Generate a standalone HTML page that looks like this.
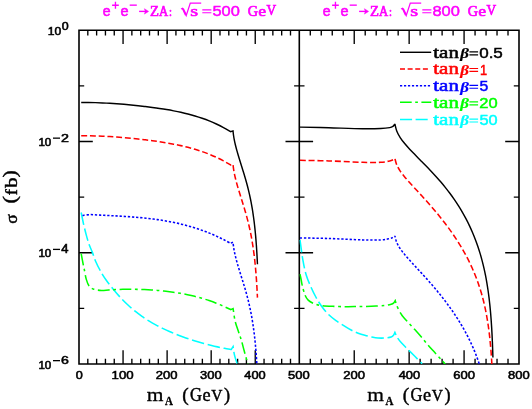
<!DOCTYPE html>
<html><head><meta charset="utf-8"><style>html,body{margin:0;padding:0;background:#fff}svg{display:block;will-change:transform}</style></head><body><svg width="532" height="409" viewBox="0 0 532 409">
<defs><clipPath id="cl"><rect x="79.00" y="30.20" width="220.30" height="333.75"/></clipPath>
<clipPath id="cr"><rect x="299.30" y="30.20" width="219.70" height="333.75"/></clipPath></defs>
<rect width="532" height="409" fill="#fff"/>
<path d="M79.00,30.20 H519.00 V363.95 H79.00 Z M299.30,30.20 V363.95" fill="none" stroke="#000" stroke-width="1.60" stroke-linecap="butt" stroke-linejoin="miter"/>
<path d="M87.81,30.20 v5.20 M87.81,363.95 v-5.20 M96.62,30.20 v5.20 M96.62,363.95 v-5.20 M105.44,30.20 v5.20 M105.44,363.95 v-5.20 M114.25,30.20 v5.20 M114.25,363.95 v-5.20 M123.06,30.20 v13.80 M123.06,363.95 v-13.80 M131.87,30.20 v5.20 M131.87,363.95 v-5.20 M140.68,30.20 v5.20 M140.68,363.95 v-5.20 M149.50,30.20 v5.20 M149.50,363.95 v-5.20 M158.31,30.20 v5.20 M158.31,363.95 v-5.20 M167.12,30.20 v13.80 M167.12,363.95 v-13.80 M175.93,30.20 v5.20 M175.93,363.95 v-5.20 M184.74,30.20 v5.20 M184.74,363.95 v-5.20 M193.56,30.20 v5.20 M193.56,363.95 v-5.20 M202.37,30.20 v5.20 M202.37,363.95 v-5.20 M211.18,30.20 v13.80 M211.18,363.95 v-13.80 M219.99,30.20 v5.20 M219.99,363.95 v-5.20 M228.80,30.20 v5.20 M228.80,363.95 v-5.20 M237.62,30.20 v5.20 M237.62,363.95 v-5.20 M246.43,30.20 v5.20 M246.43,363.95 v-5.20 M255.24,30.20 v13.80 M255.24,363.95 v-13.80 M264.05,30.20 v5.20 M264.05,363.95 v-5.20 M272.86,30.20 v5.20 M272.86,363.95 v-5.20 M281.68,30.20 v5.20 M281.68,363.95 v-5.20 M290.49,30.20 v5.20 M290.49,363.95 v-5.20 M310.29,30.20 v5.20 M310.29,363.95 v-5.20 M321.27,30.20 v5.20 M321.27,363.95 v-5.20 M332.25,30.20 v5.20 M332.25,363.95 v-5.20 M343.24,30.20 v5.20 M343.24,363.95 v-5.20 M354.23,30.20 v13.80 M354.23,363.95 v-13.80 M365.21,30.20 v5.20 M365.21,363.95 v-5.20 M376.19,30.20 v5.20 M376.19,363.95 v-5.20 M387.18,30.20 v5.20 M387.18,363.95 v-5.20 M398.17,30.20 v5.20 M398.17,363.95 v-5.20 M409.15,30.20 v13.80 M409.15,363.95 v-13.80 M420.13,30.20 v5.20 M420.13,363.95 v-5.20 M431.12,30.20 v5.20 M431.12,363.95 v-5.20 M442.11,30.20 v5.20 M442.11,363.95 v-5.20 M453.09,30.20 v5.20 M453.09,363.95 v-5.20 M464.08,30.20 v13.80 M464.08,363.95 v-13.80 M475.06,30.20 v5.20 M475.06,363.95 v-5.20 M486.05,30.20 v5.20 M486.05,363.95 v-5.20 M497.03,30.20 v5.20 M497.03,363.95 v-5.20 M508.01,30.20 v5.20 M508.01,363.95 v-5.20 M79.00,85.83 h5.20 M294.10,85.83 h10.40 M519.00,85.83 h-5.20 M79.00,141.45 h13.80 M285.50,141.45 h27.60 M519.00,141.45 h-13.80 M79.00,197.07 h5.20 M294.10,197.07 h10.40 M519.00,197.07 h-5.20 M79.00,252.70 h13.80 M285.50,252.70 h27.60 M519.00,252.70 h-13.80 M79.00,308.32 h5.20 M294.10,308.32 h10.40 M519.00,308.32 h-5.20" fill="none" stroke="#000" stroke-width="1.35" stroke-linecap="butt"/>
<path d="M81.20,212.50 C81.58,214.38 82.65,220.03 83.50,223.80 C84.35,227.57 85.37,231.65 86.30,235.10 C87.23,238.55 88.10,241.67 89.10,244.50 C90.10,247.33 91.20,249.27 92.30,252.10 C93.40,254.93 94.35,258.37 95.70,261.50 C97.05,264.63 98.67,267.82 100.40,270.90 C102.13,273.98 103.75,276.70 106.10,280.00 C108.45,283.30 111.95,287.63 114.50,290.71 C117.05,293.79 119.08,296.08 121.37,298.51 C123.66,300.94 125.95,303.18 128.24,305.30 C130.53,307.41 132.82,309.36 135.11,311.21 C137.40,313.05 139.69,314.76 141.98,316.37 C144.27,317.98 146.56,319.47 148.85,320.89 C151.14,322.31 153.43,323.62 155.72,324.87 C158.01,326.12 160.30,327.28 162.59,328.40 C164.88,329.51 167.17,330.55 169.46,331.55 C171.75,332.54 174.05,333.48 176.34,334.38 C178.63,335.28 180.92,336.13 183.21,336.95 C185.50,337.77 187.79,338.55 190.08,339.30 C192.37,340.06 194.66,340.77 196.95,341.46 C199.24,342.15 201.53,342.81 203.82,343.44 C206.11,344.07 208.40,344.68 210.69,345.25 C212.98,345.82 215.27,346.37 217.56,346.88 C219.85,347.39 222.14,347.87 224.43,348.31 C226.72,348.74 230.15,349.30 231.30,349.50 L233.10,346.70 C233.33,348.10 233.83,352.30 234.50,355.10 C235.17,357.90 236.67,362.10 237.10,363.50 " fill="none" stroke="#00ffff" stroke-width="1.55" stroke-dasharray="12.6 3.7" clip-path="url(#cl)"/>
<path d="M81.20,253.70 C81.58,255.73 82.97,263.18 83.50,265.90 C84.03,268.62 83.93,267.75 84.40,270.00 C84.87,272.25 85.52,276.73 86.30,279.40 C87.08,282.07 87.85,284.37 89.10,286.00 C90.35,287.63 91.75,288.46 93.80,289.20 C95.85,289.94 98.94,290.33 101.40,290.45 C103.86,290.57 106.19,290.08 108.58,289.93 C110.97,289.78 113.36,289.66 115.76,289.56 C118.15,289.47 120.54,289.40 122.93,289.35 C125.33,289.30 127.72,289.28 130.11,289.28 C132.50,289.28 134.90,289.31 137.29,289.36 C139.68,289.41 142.07,289.49 144.47,289.59 C146.86,289.69 149.25,289.82 151.64,289.98 C154.04,290.13 156.43,290.32 158.82,290.53 C161.21,290.75 163.61,290.99 166.00,291.27 C168.39,291.54 170.79,291.85 173.18,292.20 C175.57,292.54 177.96,292.92 180.36,293.34 C182.75,293.76 185.14,294.22 187.53,294.72 C189.93,295.23 192.32,295.77 194.71,296.37 C197.10,296.96 199.50,297.60 201.89,298.30 C204.28,299.00 206.67,299.75 209.07,300.56 C211.46,301.37 213.85,302.23 216.24,303.17 C218.64,304.10 221.03,305.10 223.42,306.17 C225.81,307.24 229.40,309.03 230.60,309.61 L233.10,308.60 C233.43,310.67 234.18,317.10 235.10,321.00 C236.02,324.90 237.57,328.83 238.60,332.00 C239.63,335.17 240.32,336.67 241.30,340.00 C242.28,343.33 243.40,347.97 244.50,352.00 C245.60,356.03 247.33,362.17 247.90,364.20 " fill="none" stroke="#00ff00" stroke-width="1.55" stroke-dasharray="11.7 3.6 2.8 3.6" clip-path="url(#cl)"/>
<path d="M82.50,215.40 C83.75,215.27 87.58,214.67 90.00,214.60 C92.42,214.53 94.68,214.85 97.03,214.97 C99.37,215.09 101.71,215.20 104.05,215.32 C106.39,215.43 108.73,215.54 111.08,215.66 C113.42,215.79 115.76,215.91 118.10,216.04 C120.44,216.17 122.78,216.31 125.12,216.46 C127.47,216.61 129.81,216.77 132.15,216.95 C134.49,217.12 136.83,217.31 139.18,217.53 C141.52,217.74 143.86,217.96 146.20,218.22 C148.54,218.47 150.88,218.74 153.22,219.04 C155.57,219.35 157.91,219.67 160.25,220.03 C162.59,220.38 164.93,220.77 167.28,221.19 C169.62,221.61 171.96,222.06 174.30,222.55 C176.64,223.04 178.98,223.57 181.32,224.14 C183.67,224.71 186.01,225.31 188.35,225.97 C190.69,226.62 193.03,227.32 195.38,228.06 C197.72,228.81 200.06,229.60 202.40,230.45 C204.74,231.29 207.08,232.19 209.43,233.14 C211.77,234.09 214.11,235.09 216.45,236.16 C218.79,237.23 221.13,238.35 223.47,239.53 C225.82,240.72 229.33,242.66 230.50,243.28 L233.00,242.20 C233.09,242.96 233.33,245.27 233.55,246.81 C233.77,248.35 234.04,249.91 234.34,251.44 C234.64,252.98 234.99,254.50 235.36,256.03 C235.72,257.55 236.12,259.06 236.52,260.58 C236.93,262.09 237.36,263.59 237.79,265.10 C238.23,266.60 238.68,268.10 239.14,269.60 C239.59,271.10 240.06,272.59 240.52,274.08 C240.99,275.58 241.46,277.07 241.93,278.56 C242.40,280.06 242.87,281.55 243.33,283.05 C243.79,284.54 244.25,286.04 244.69,287.54 C245.14,289.04 245.58,290.54 246.00,292.05 C246.43,293.56 246.84,295.07 247.24,296.58 C247.64,298.10 248.03,299.61 248.40,301.13 C248.77,302.65 249.13,304.18 249.47,305.71 C249.81,307.23 250.14,308.76 250.46,310.30 C250.77,311.83 251.07,313.37 251.36,314.91 C251.64,316.45 251.91,317.99 252.17,319.53 C252.43,321.08 252.68,322.62 252.91,324.17 C253.15,325.72 253.37,327.27 253.58,328.82 C253.79,330.37 253.99,331.92 254.19,333.47 C254.38,335.03 254.56,336.58 254.73,338.14 C254.90,339.70 255.06,341.25 255.21,342.81 C255.37,344.37 255.51,345.93 255.65,347.49 C255.79,349.05 255.92,350.61 256.04,352.17 C256.16,353.73 256.28,355.29 256.39,356.85 C256.50,358.41 256.60,359.97 256.70,361.54 C256.80,363.10 256.89,364.66 256.98,366.22 C257.07,367.79 257.15,369.35 257.23,370.91 C257.30,372.48 257.41,374.82 257.45,375.61 " fill="none" stroke="#0000ff" stroke-width="1.55" stroke-dasharray="2.3 1.83" clip-path="url(#cl)"/>
<path d="M81.20,135.84 C82.39,135.83 85.94,135.79 88.31,135.81 C90.69,135.83 93.06,135.88 95.43,135.95 C97.80,136.01 100.17,136.11 102.54,136.21 C104.91,136.32 107.29,136.45 109.66,136.60 C112.03,136.74 114.40,136.90 116.77,137.08 C119.14,137.25 121.51,137.44 123.89,137.64 C126.26,137.84 128.63,138.05 131.00,138.28 C133.37,138.51 135.74,138.75 138.11,139.00 C140.49,139.26 142.86,139.53 145.23,139.81 C147.60,140.09 149.97,140.39 152.34,140.71 C154.71,141.03 157.09,141.36 159.46,141.72 C161.83,142.08 164.20,142.45 166.57,142.86 C168.94,143.26 171.31,143.69 173.69,144.15 C176.06,144.62 178.43,145.10 180.80,145.63 C183.17,146.17 185.54,146.73 187.91,147.34 C190.29,147.95 192.66,148.60 195.03,149.31 C197.40,150.02 199.77,150.78 202.14,151.60 C204.51,152.42 206.89,153.29 209.26,154.25 C211.63,155.20 214.00,156.22 216.37,157.32 C218.74,158.43 221.11,159.60 223.49,160.88 C225.86,162.16 229.41,164.31 230.60,165.00 L233.00,164.20 C233.09,164.96 233.33,167.27 233.55,168.81 C233.77,170.35 234.04,171.91 234.34,173.44 C234.64,174.98 234.99,176.50 235.36,178.03 C235.72,179.55 236.12,181.06 236.52,182.58 C236.93,184.09 237.36,185.59 237.79,187.10 C238.23,188.60 238.68,190.10 239.14,191.60 C239.59,193.10 240.06,194.59 240.52,196.08 C240.99,197.58 241.46,199.07 241.93,200.56 C242.40,202.06 242.87,203.55 243.33,205.05 C243.79,206.54 244.25,208.04 244.69,209.54 C245.14,211.04 245.58,212.54 246.00,214.05 C246.43,215.56 246.84,217.07 247.24,218.58 C247.64,220.10 248.03,221.61 248.40,223.13 C248.77,224.65 249.13,226.18 249.47,227.71 C249.81,229.23 250.14,230.76 250.46,232.30 C250.77,233.83 251.07,235.37 251.36,236.91 C251.64,238.45 251.91,239.99 252.17,241.53 C252.43,243.08 252.68,244.62 252.91,246.17 C253.15,247.72 253.37,249.27 253.58,250.82 C253.79,252.37 253.99,253.92 254.19,255.47 C254.38,257.03 254.56,258.58 254.73,260.14 C254.90,261.70 255.06,263.25 255.21,264.81 C255.37,266.37 255.51,267.93 255.65,269.49 C255.79,271.05 255.92,272.61 256.04,274.17 C256.16,275.73 256.28,277.29 256.39,278.85 C256.50,280.41 256.60,281.97 256.70,283.54 C256.80,285.10 256.89,286.66 256.98,288.22 C257.07,289.79 257.15,291.35 257.23,292.91 C257.30,294.48 257.41,296.82 257.45,297.61 " fill="none" stroke="#ff0000" stroke-width="1.55" stroke-dasharray="5.9 2.85" clip-path="url(#cl)"/>
<path d="M81.20,102.54 C82.39,102.53 85.94,102.49 88.31,102.51 C90.69,102.53 93.06,102.58 95.43,102.65 C97.80,102.71 100.17,102.81 102.54,102.91 C104.91,103.02 107.29,103.15 109.66,103.30 C112.03,103.44 114.40,103.60 116.77,103.78 C119.14,103.95 121.51,104.14 123.89,104.34 C126.26,104.54 128.63,104.75 131.00,104.98 C133.37,105.21 135.74,105.45 138.11,105.70 C140.49,105.96 142.86,106.23 145.23,106.51 C147.60,106.79 149.97,107.09 152.34,107.41 C154.71,107.73 157.09,108.06 159.46,108.42 C161.83,108.78 164.20,109.15 166.57,109.56 C168.94,109.96 171.31,110.39 173.69,110.85 C176.06,111.32 178.43,111.80 180.80,112.33 C183.17,112.87 185.54,113.43 187.91,114.04 C190.29,114.65 192.66,115.30 195.03,116.01 C197.40,116.72 199.77,117.48 202.14,118.30 C204.51,119.12 206.89,119.99 209.26,120.95 C211.63,121.90 214.00,122.92 216.37,124.02 C218.74,125.13 221.11,126.30 223.49,127.58 C225.86,128.86 229.41,131.01 230.60,131.70 L233.00,130.90 C233.09,131.66 233.33,133.97 233.55,135.51 C233.77,137.05 234.04,138.61 234.34,140.14 C234.64,141.68 234.99,143.20 235.36,144.73 C235.72,146.25 236.12,147.76 236.52,149.28 C236.93,150.79 237.36,152.29 237.79,153.80 C238.23,155.30 238.68,156.80 239.14,158.30 C239.59,159.80 240.06,161.29 240.52,162.78 C240.99,164.28 241.46,165.77 241.93,167.26 C242.40,168.76 242.87,170.25 243.33,171.75 C243.79,173.24 244.25,174.74 244.69,176.24 C245.14,177.74 245.58,179.24 246.00,180.75 C246.43,182.26 246.84,183.77 247.24,185.28 C247.64,186.80 248.03,188.31 248.40,189.83 C248.77,191.35 249.13,192.88 249.47,194.41 C249.81,195.93 250.14,197.46 250.46,199.00 C250.77,200.53 251.07,202.07 251.36,203.61 C251.64,205.15 251.91,206.69 252.17,208.23 C252.43,209.78 252.68,211.32 252.91,212.87 C253.15,214.42 253.37,215.97 253.58,217.52 C253.79,219.07 253.99,220.62 254.19,222.17 C254.38,223.73 254.56,225.28 254.73,226.84 C254.90,228.40 255.06,229.95 255.21,231.51 C255.37,233.07 255.51,234.63 255.65,236.19 C255.79,237.75 255.92,239.31 256.04,240.87 C256.16,242.43 256.28,243.99 256.39,245.55 C256.50,247.11 256.60,248.67 256.70,250.24 C256.80,251.80 256.89,253.36 256.98,254.92 C257.07,256.49 257.15,258.05 257.23,259.61 C257.30,261.18 257.41,263.52 257.45,264.31 " fill="none" stroke="#000" stroke-width="1.45" clip-path="url(#cl)"/>
<path d="M300.00,239.80 C300.48,243.18 301.87,254.23 302.90,260.10 C303.93,265.97 304.87,270.53 306.20,275.00 C307.53,279.47 309.25,283.15 310.90,286.90 C312.55,290.65 314.35,294.32 316.10,297.50 C317.85,300.68 319.42,303.25 321.40,306.00 C323.38,308.75 325.57,311.57 328.00,314.00 C330.43,316.43 333.17,318.53 336.00,320.60 C338.83,322.67 342.40,324.78 345.00,326.40 C347.60,328.02 349.40,329.17 351.60,330.30 C353.80,331.43 356.00,332.37 358.20,333.20 C360.40,334.03 362.60,334.68 364.80,335.30 C367.00,335.92 369.20,336.45 371.40,336.90 C373.60,337.35 375.80,337.82 378.00,338.00 C380.20,338.18 382.40,338.18 384.60,338.00 C386.80,337.82 389.72,337.37 391.20,336.90 C392.68,336.43 392.88,335.95 393.50,335.20 C394.12,334.45 394.67,332.87 394.90,332.40 L394.90,332.40 C395.05,332.75 395.45,333.72 395.80,334.50 C396.15,335.28 396.03,335.67 397.00,337.10 C397.97,338.53 399.73,341.00 401.60,343.10 C403.47,345.20 406.00,347.50 408.20,349.70 C410.40,351.90 412.48,353.97 414.80,356.30 C417.12,358.63 420.88,362.47 422.10,363.70 " fill="none" stroke="#00ffff" stroke-width="1.55" stroke-dasharray="12.6 3.7" clip-path="url(#cr)"/>
<path d="M300.00,274.10 C300.20,275.08 300.82,278.08 301.20,280.00 C301.58,281.92 301.68,283.13 302.30,285.60 C302.92,288.07 303.92,292.38 304.90,294.80 C305.88,297.22 306.77,298.67 308.20,300.10 C309.63,301.53 311.30,302.48 313.50,303.40 C315.70,304.32 317.88,305.10 321.40,305.60 C324.92,306.10 330.20,306.22 334.60,306.40 C339.00,306.58 343.87,306.68 347.80,306.70 C351.73,306.72 354.27,306.57 358.20,306.50 C362.13,306.43 367.00,306.47 371.40,306.30 C375.80,306.13 381.30,305.85 384.60,305.50 C387.90,305.15 389.67,304.65 391.20,304.20 C392.73,303.75 393.13,303.40 393.80,302.80 C394.47,302.20 394.97,300.97 395.20,300.60 L395.20,300.60 C395.38,301.17 395.87,302.78 396.30,304.00 C396.73,305.22 397.03,306.30 397.80,307.90 C398.57,309.50 400.02,312.12 400.90,313.60 C401.78,315.08 401.87,315.32 403.10,316.80 C404.33,318.28 406.35,320.37 408.30,322.50 C410.25,324.63 412.62,327.17 414.80,329.60 C416.98,332.03 419.20,334.53 421.40,337.10 C423.60,339.67 425.80,342.47 428.00,345.00 C430.20,347.53 432.40,349.87 434.60,352.30 C436.80,354.73 439.43,357.63 441.20,359.60 C442.97,361.57 444.53,363.35 445.20,364.10 " fill="none" stroke="#00ff00" stroke-width="1.55" stroke-dasharray="11.7 3.6 2.8 3.6" clip-path="url(#cr)"/>
<path d="M300.00,237.90 C304.80,238.00 318.35,238.17 328.80,238.50 C339.25,238.83 354.05,239.67 362.70,239.90 C371.35,240.13 376.20,240.13 380.70,239.90 C385.20,239.67 387.65,238.92 389.70,238.50 C391.75,238.08 392.13,237.78 393.00,237.40 C393.87,237.02 394.58,236.40 394.90,236.20 L394.90,236.08 C395.20,237.12 395.85,240.29 396.69,242.32 C397.52,244.34 398.69,246.35 399.89,248.23 C401.10,250.12 402.52,251.88 403.93,253.63 C405.33,255.38 406.83,257.06 408.31,258.75 C409.80,260.43 411.33,262.08 412.84,263.73 C414.36,265.39 415.90,267.03 417.42,268.68 C418.95,270.33 420.47,271.98 421.99,273.64 C423.51,275.29 425.02,276.96 426.51,278.63 C428.01,280.31 429.50,281.99 430.97,283.68 C432.45,285.38 433.91,287.09 435.35,288.81 C436.80,290.53 438.23,292.26 439.64,294.01 C441.05,295.76 442.44,297.52 443.81,299.30 C445.19,301.08 446.54,302.87 447.87,304.68 C449.21,306.49 450.52,308.31 451.81,310.15 C453.09,311.99 454.36,313.85 455.60,315.73 C456.83,317.60 458.05,319.49 459.23,321.40 C460.41,323.31 461.57,325.24 462.70,327.18 C463.82,329.12 464.92,331.09 465.98,333.07 C467.04,335.04 468.08,337.04 469.07,339.05 C470.07,341.07 471.03,343.10 471.95,345.15 C472.88,347.19 473.77,349.26 474.62,351.34 C475.47,353.41 476.29,355.51 477.07,357.62 C477.84,359.72 478.58,361.85 479.29,363.98 C479.99,366.11 480.66,368.26 481.29,370.42 C481.91,372.57 482.51,374.74 483.07,376.92 C483.63,379.09 484.15,381.28 484.64,383.47 C485.13,385.66 485.59,387.86 486.02,390.06 C486.45,392.27 486.85,394.48 487.22,396.70 C487.59,398.91 487.94,401.13 488.26,403.36 C488.58,405.58 488.87,407.81 489.15,410.04 C489.43,412.27 489.68,414.50 489.91,416.73 C490.15,418.97 490.36,421.20 490.56,423.44 C490.76,425.68 490.94,427.92 491.11,430.16 C491.28,432.40 491.43,434.64 491.57,436.88 C491.72,439.12 491.90,442.49 491.97,443.61 " fill="none" stroke="#0000ff" stroke-width="1.55" stroke-dasharray="2.3 1.83" clip-path="url(#cr)"/>
<path d="M300.00,160.30 C304.80,160.40 318.35,160.57 328.80,160.90 C339.25,161.23 354.05,162.07 362.70,162.30 C371.35,162.53 376.20,162.53 380.70,162.30 C385.20,162.07 387.65,161.32 389.70,160.90 C391.75,160.48 392.13,160.18 393.00,159.80 C393.87,159.42 394.58,158.80 394.90,158.60 L394.90,158.48 C395.20,159.52 395.85,162.69 396.69,164.72 C397.52,166.74 398.69,168.75 399.89,170.63 C401.10,172.52 402.52,174.28 403.93,176.03 C405.33,177.78 406.83,179.46 408.31,181.15 C409.80,182.83 411.33,184.48 412.84,186.13 C414.36,187.79 415.90,189.43 417.42,191.08 C418.95,192.73 420.47,194.38 421.99,196.04 C423.51,197.69 425.02,199.36 426.51,201.03 C428.01,202.71 429.50,204.39 430.97,206.08 C432.45,207.78 433.91,209.49 435.35,211.21 C436.80,212.93 438.23,214.66 439.64,216.41 C441.05,218.16 442.44,219.92 443.81,221.70 C445.19,223.48 446.54,225.27 447.87,227.08 C449.21,228.89 450.52,230.71 451.81,232.55 C453.09,234.39 454.36,236.25 455.60,238.13 C456.83,240.00 458.05,241.89 459.23,243.80 C460.41,245.71 461.57,247.64 462.70,249.58 C463.82,251.52 464.92,253.49 465.98,255.47 C467.04,257.44 468.08,259.44 469.07,261.45 C470.07,263.47 471.03,265.50 471.95,267.55 C472.88,269.59 473.77,271.66 474.62,273.74 C475.47,275.81 476.29,277.91 477.07,280.02 C477.84,282.12 478.58,284.25 479.29,286.38 C479.99,288.51 480.66,290.66 481.29,292.82 C481.91,294.97 482.51,297.14 483.07,299.32 C483.63,301.49 484.15,303.68 484.64,305.87 C485.13,308.06 485.59,310.26 486.02,312.46 C486.45,314.67 486.85,316.88 487.22,319.10 C487.59,321.31 487.94,323.53 488.26,325.76 C488.58,327.98 488.87,330.21 489.15,332.44 C489.43,334.67 489.68,336.90 489.91,339.13 C490.15,341.37 490.36,343.60 490.56,345.84 C490.76,348.08 490.94,350.32 491.11,352.56 C491.28,354.80 491.43,357.04 491.57,359.28 C491.72,361.52 491.90,364.89 491.97,366.01 " fill="none" stroke="#ff0000" stroke-width="1.55" stroke-dasharray="5.9 2.85" clip-path="url(#cr)"/>
<path d="M300.00,127.10 C304.80,127.22 318.35,127.53 328.80,127.80 C339.25,128.07 354.05,128.58 362.70,128.70 C371.35,128.82 376.20,128.68 380.70,128.50 C385.20,128.32 387.65,127.97 389.70,127.60 C391.75,127.23 392.13,126.90 393.00,126.30 C393.87,125.70 394.58,124.38 394.90,124.00 L394.90,123.90 C395.21,125.07 395.86,128.63 396.74,130.90 C397.62,133.18 398.87,135.44 400.20,137.55 C401.52,139.65 403.11,141.61 404.69,143.55 C406.27,145.49 407.97,147.33 409.67,149.17 C411.36,151.01 413.12,152.79 414.86,154.58 C416.61,156.37 418.38,158.14 420.14,159.92 C421.90,161.70 423.67,163.47 425.41,165.26 C427.16,167.05 428.90,168.85 430.62,170.67 C432.33,172.49 434.04,174.32 435.71,176.18 C437.39,178.04 439.04,179.91 440.67,181.82 C442.29,183.72 443.89,185.65 445.45,187.60 C447.01,189.55 448.54,191.53 450.03,193.54 C451.53,195.55 452.99,197.58 454.40,199.64 C455.82,201.70 457.20,203.79 458.54,205.90 C459.88,208.02 461.18,210.16 462.43,212.32 C463.68,214.49 464.89,216.68 466.06,218.89 C467.22,221.10 468.34,223.34 469.42,225.60 C470.49,227.86 471.52,230.14 472.50,232.44 C473.49,234.74 474.42,237.06 475.32,239.40 C476.21,241.73 477.06,244.09 477.86,246.46 C478.67,248.83 479.42,251.21 480.14,253.61 C480.86,256.00 481.53,258.41 482.17,260.83 C482.80,263.25 483.40,265.68 483.95,268.12 C484.51,270.56 485.03,273.01 485.51,275.46 C486.00,277.92 486.45,280.38 486.86,282.85 C487.28,285.31 487.67,287.78 488.03,290.26 C488.39,292.74 488.71,295.22 489.02,297.70 C489.32,300.18 489.60,302.67 489.86,305.16 C490.12,307.64 490.35,310.14 490.57,312.63 C490.78,315.12 490.98,317.61 491.16,320.11 C491.34,322.60 491.50,325.10 491.66,327.60 C491.81,330.09 491.94,332.59 492.07,335.09 C492.19,337.59 492.30,340.09 492.41,342.59 C492.51,345.08 492.60,347.58 492.69,350.08 C492.77,352.58 492.88,356.34 492.92,357.59 " fill="none" stroke="#000" stroke-width="1.45" clip-path="url(#cr)"/>
<text transform="matrix(1.0937,0,0,1,75.795,379.485)" font-family="Liberation Sans, serif" font-weight="normal" font-style="normal" font-size="11.549" fill="#000" stroke="#000" stroke-width="0.57">0</text>
<text transform="matrix(1.1470,0,0,1,111.606,379.485)" font-family="Liberation Sans, serif" font-weight="normal" font-style="normal" font-size="11.549" fill="#000" stroke="#000" stroke-width="0.56">100</text>
<text transform="matrix(1.1289,0,0,1,155.748,379.485)" font-family="Liberation Sans, serif" font-weight="normal" font-style="normal" font-size="11.549" fill="#000" stroke="#000" stroke-width="0.56">200</text>
<text transform="matrix(1.1218,0,0,1,200.082,379.485)" font-family="Liberation Sans, serif" font-weight="normal" font-style="normal" font-size="11.549" fill="#000" stroke="#000" stroke-width="0.57">300</text>
<text transform="matrix(1.1113,0,0,1,244.279,379.485)" font-family="Liberation Sans, serif" font-weight="normal" font-style="normal" font-size="11.549" fill="#000" stroke="#000" stroke-width="0.57">400</text>
<text transform="matrix(1.1218,0,0,1,288.082,379.485)" font-family="Liberation Sans, serif" font-weight="normal" font-style="normal" font-size="11.549" fill="#000" stroke="#000" stroke-width="0.57">500</text>
<text transform="matrix(1.1289,0,0,1,343.248,379.485)" font-family="Liberation Sans, serif" font-weight="normal" font-style="normal" font-size="11.549" fill="#000" stroke="#000" stroke-width="0.56">200</text>
<text transform="matrix(1.1113,0,0,1,398.679,379.485)" font-family="Liberation Sans, serif" font-weight="normal" font-style="normal" font-size="11.549" fill="#000" stroke="#000" stroke-width="0.57">400</text>
<text transform="matrix(1.1289,0,0,1,453.348,379.485)" font-family="Liberation Sans, serif" font-weight="normal" font-style="normal" font-size="11.549" fill="#000" stroke="#000" stroke-width="0.56">600</text>
<text transform="matrix(1.1253,0,0,1,508.115,379.485)" font-family="Liberation Sans, serif" font-weight="normal" font-style="normal" font-size="11.549" fill="#000" stroke="#000" stroke-width="0.56">800</text>
<text transform="matrix(1.0227,0,0,1,47.692,34.882)" font-family="Liberation Sans, serif" font-weight="normal" font-style="normal" font-size="11.831" fill="#000" stroke="#000" stroke-width="0.59">10</text>
<text transform="matrix(1.1453,0,0,1,61.803,30.192)" font-family="Liberation Sans, serif" font-weight="normal" font-style="normal" font-size="10.845" fill="#000" stroke="#000" stroke-width="0.56">0</text>
<text transform="matrix(0.9805,0,0,1,38.430,146.132)" font-family="Liberation Sans, serif" font-weight="normal" font-style="normal" font-size="11.831" fill="#000" stroke="#000" stroke-width="0.61">10</text>
<path d="M53.0,138.15 h7.0" stroke="#000" stroke-width="1.3" fill="none"/>
<text transform="matrix(1.2195,0,0,1,60.886,142.050)" font-family="Liberation Sans, serif" font-weight="normal" font-style="normal" font-size="11.714" fill="#000" stroke="#000" stroke-width="0.54">2</text>
<text transform="matrix(0.9805,0,0,1,38.430,257.382)" font-family="Liberation Sans, serif" font-weight="normal" font-style="normal" font-size="11.831" fill="#000" stroke="#000" stroke-width="0.61">10</text>
<path d="M53.0,249.40 h7.0" stroke="#000" stroke-width="1.3" fill="none"/>
<text transform="matrix(1.0939,0,0,1,61.275,253.300)" font-family="Liberation Sans, serif" font-weight="normal" font-style="normal" font-size="11.884" fill="#000" stroke="#000" stroke-width="0.57">4</text>
<text transform="matrix(0.9805,0,0,1,38.430,368.632)" font-family="Liberation Sans, serif" font-weight="normal" font-style="normal" font-size="11.831" fill="#000" stroke="#000" stroke-width="0.61">10</text>
<path d="M53.0,360.65 h7.0" stroke="#000" stroke-width="1.3" fill="none"/>
<text transform="matrix(1.2235,0,0,1,60.893,364.435)" font-family="Liberation Sans, serif" font-weight="normal" font-style="normal" font-size="11.549" fill="#000" stroke="#000" stroke-width="0.54">6</text>
<text transform="matrix(1.0261,0,0,1,102.641,15.738)" font-family="Liberation Sans, serif" font-weight="normal" font-style="normal" font-size="13.727" fill="#ff00ff" stroke="#ff00ff" stroke-width="0.54">e</text>
<path d="M112.10,5.2 h6.7 M115.45,1.7 v7.0" stroke="#ff00ff" stroke-width="1.35" fill="none"/>
<text transform="matrix(1.0575,0,0,1,120.422,15.738)" font-family="Liberation Sans, serif" font-weight="normal" font-style="normal" font-size="13.727" fill="#ff00ff" stroke="#ff00ff" stroke-width="0.53">e</text>
<path d="M129.70,5.15 h7.1" stroke="#ff00ff" stroke-width="1.35" fill="none"/>
<path d="M139.10,11.4 h7.0" stroke="#ff00ff" stroke-width="1.4" fill="none"/><path d="M144.40,8.7 l4.2,2.7 l-4.2,2.7 l1.0,-2.7 z" fill="#ff00ff" stroke="#ff00ff" stroke-width="0.5" stroke-linejoin="round"/>
<text transform="matrix(0.9928,0,0,1,149.905,15.710)" font-family="Liberation Serif, serif" font-weight="normal" font-style="normal" font-size="14.800" fill="#ff00ff" stroke="#ff00ff" stroke-width="0.68">Z</text>
<text transform="matrix(0.8615,0,0,1,158.913,15.710)" font-family="Liberation Serif, serif" font-weight="normal" font-style="normal" font-size="14.687" fill="#ff00ff" stroke="#ff00ff" stroke-width="0.73">A</text>
<text transform="matrix(0.8121,0,0,1,169.091,15.614)" font-family="Liberation Serif, serif" font-weight="normal" font-style="normal" font-size="13.063" fill="#ff00ff" stroke="#ff00ff" stroke-width="0.75">:</text>
<path d="M181.00,9.0 L182.60,8.3 L186.20,15.6 L190.30,3.1 H201.20" fill="none" stroke="#ff00ff" stroke-width="1.25" stroke-linejoin="miter"/>
<path d="M182.90,8.6 L185.90,15.0" fill="none" stroke="#ff00ff" stroke-width="2.0"/>
<text transform="matrix(1.3184,0,0,1,190.325,15.655)" font-family="Liberation Serif, serif" font-weight="normal" font-style="normal" font-size="15.458" fill="#ff00ff" stroke="#ff00ff" stroke-width="0.59">s</text>
<path d="M202.30,9.9 h9.1 M202.30,12.75 h9.1" stroke="#ff00ff" stroke-width="1.15" fill="none"/>
<text transform="matrix(1.1047,0,0,1,212.493,15.801)" font-family="Liberation Sans, serif" font-weight="normal" font-style="normal" font-size="14.859" fill="#ff00ff" stroke="#ff00ff" stroke-width="0.48">500</text>
<text transform="matrix(0.9678,0,0,1,247.873,15.663)" font-family="Liberation Serif, serif" font-weight="normal" font-style="normal" font-size="14.657" fill="#ff00ff" stroke="#ff00ff" stroke-width="0.69">G</text>
<text transform="matrix(1.1399,0,0,1,258.335,15.655)" font-family="Liberation Serif, serif" font-weight="normal" font-style="normal" font-size="15.458" fill="#ff00ff" stroke="#ff00ff" stroke-width="0.64">e</text>
<text transform="matrix(0.9204,0,0,1,266.407,15.493)" font-family="Liberation Serif, serif" font-weight="normal" font-style="normal" font-size="14.466" fill="#ff00ff" stroke="#ff00ff" stroke-width="0.71">V</text>
<text transform="matrix(1.0261,0,0,1,322.641,15.738)" font-family="Liberation Sans, serif" font-weight="normal" font-style="normal" font-size="13.727" fill="#ff00ff" stroke="#ff00ff" stroke-width="0.54">e</text>
<path d="M332.10,5.2 h6.7 M335.45,1.7 v7.0" stroke="#ff00ff" stroke-width="1.35" fill="none"/>
<text transform="matrix(1.0575,0,0,1,340.422,15.738)" font-family="Liberation Sans, serif" font-weight="normal" font-style="normal" font-size="13.727" fill="#ff00ff" stroke="#ff00ff" stroke-width="0.53">e</text>
<path d="M349.70,5.15 h7.1" stroke="#ff00ff" stroke-width="1.35" fill="none"/>
<path d="M359.10,11.4 h7.0" stroke="#ff00ff" stroke-width="1.4" fill="none"/><path d="M364.40,8.7 l4.2,2.7 l-4.2,2.7 l1.0,-2.7 z" fill="#ff00ff" stroke="#ff00ff" stroke-width="0.5" stroke-linejoin="round"/>
<text transform="matrix(0.9928,0,0,1,369.905,15.710)" font-family="Liberation Serif, serif" font-weight="normal" font-style="normal" font-size="14.800" fill="#ff00ff" stroke="#ff00ff" stroke-width="0.68">Z</text>
<text transform="matrix(0.8615,0,0,1,378.913,15.710)" font-family="Liberation Serif, serif" font-weight="normal" font-style="normal" font-size="14.687" fill="#ff00ff" stroke="#ff00ff" stroke-width="0.73">A</text>
<text transform="matrix(0.8121,0,0,1,389.091,15.614)" font-family="Liberation Serif, serif" font-weight="normal" font-style="normal" font-size="13.063" fill="#ff00ff" stroke="#ff00ff" stroke-width="0.75">:</text>
<path d="M401.00,9.0 L402.60,8.3 L406.20,15.6 L410.30,3.1 H421.20" fill="none" stroke="#ff00ff" stroke-width="1.25" stroke-linejoin="miter"/>
<path d="M402.90,8.6 L405.90,15.0" fill="none" stroke="#ff00ff" stroke-width="2.0"/>
<text transform="matrix(1.3184,0,0,1,410.325,15.655)" font-family="Liberation Serif, serif" font-weight="normal" font-style="normal" font-size="15.458" fill="#ff00ff" stroke="#ff00ff" stroke-width="0.59">s</text>
<path d="M422.30,9.9 h9.1 M422.30,12.75 h9.1" stroke="#ff00ff" stroke-width="1.15" fill="none"/>
<text transform="matrix(1.1082,0,0,1,432.409,15.801)" font-family="Liberation Sans, serif" font-weight="normal" font-style="normal" font-size="14.859" fill="#ff00ff" stroke="#ff00ff" stroke-width="0.47">800</text>
<text transform="matrix(0.9678,0,0,1,467.873,15.663)" font-family="Liberation Serif, serif" font-weight="normal" font-style="normal" font-size="14.657" fill="#ff00ff" stroke="#ff00ff" stroke-width="0.69">G</text>
<text transform="matrix(1.1399,0,0,1,478.335,15.655)" font-family="Liberation Serif, serif" font-weight="normal" font-style="normal" font-size="15.458" fill="#ff00ff" stroke="#ff00ff" stroke-width="0.64">e</text>
<text transform="matrix(0.9204,0,0,1,486.407,15.493)" font-family="Liberation Serif, serif" font-weight="normal" font-style="normal" font-size="14.466" fill="#ff00ff" stroke="#ff00ff" stroke-width="0.71">V</text>
<text transform="matrix(1.1608,0,0,1,146.720,401.050)" font-family="Liberation Serif, serif" font-weight="normal" font-style="normal" font-size="18.511" fill="#000" stroke="#000" stroke-width="0.28">m</text>
<text transform="matrix(0.8724,0,0,1,165.041,405.413)" font-family="Liberation Serif, serif" font-weight="bold" font-style="normal" font-size="12.519" fill="#000" stroke="#000" stroke-width="0.32">A</text>
<text transform="matrix(1.0070,0,0,1,182.351,401.127)" font-family="Liberation Serif, serif" font-weight="normal" font-style="normal" font-size="19.278" fill="#000" stroke="#000" stroke-width="0.45">(</text>
<text transform="matrix(0.9120,0,0,1,190.063,400.994)" font-family="Liberation Serif, serif" font-weight="normal" font-style="normal" font-size="18.134" fill="#000" stroke="#000" stroke-width="0.47">G</text>
<text transform="matrix(1.0008,0,0,1,202.495,400.993)" font-family="Liberation Serif, serif" font-weight="normal" font-style="normal" font-size="18.229" fill="#000" stroke="#000" stroke-width="0.45">e</text>
<text transform="matrix(0.8772,0,0,1,211.170,400.710)" font-family="Liberation Serif, serif" font-weight="normal" font-style="normal" font-size="17.669" fill="#000" stroke="#000" stroke-width="0.48">V</text>
<text transform="matrix(0.9477,0,0,1,223.977,401.127)" font-family="Liberation Serif, serif" font-weight="normal" font-style="normal" font-size="19.278" fill="#000" stroke="#000" stroke-width="0.46">)</text>
<text transform="matrix(1.1608,0,0,1,367.220,401.050)" font-family="Liberation Serif, serif" font-weight="normal" font-style="normal" font-size="18.511" fill="#000" stroke="#000" stroke-width="0.28">m</text>
<text transform="matrix(0.8724,0,0,1,385.541,405.413)" font-family="Liberation Serif, serif" font-weight="bold" font-style="normal" font-size="12.519" fill="#000" stroke="#000" stroke-width="0.32">A</text>
<text transform="matrix(1.0070,0,0,1,402.851,401.127)" font-family="Liberation Serif, serif" font-weight="normal" font-style="normal" font-size="19.278" fill="#000" stroke="#000" stroke-width="0.45">(</text>
<text transform="matrix(0.9120,0,0,1,410.563,400.994)" font-family="Liberation Serif, serif" font-weight="normal" font-style="normal" font-size="18.134" fill="#000" stroke="#000" stroke-width="0.47">G</text>
<text transform="matrix(1.0008,0,0,1,422.995,400.993)" font-family="Liberation Serif, serif" font-weight="normal" font-style="normal" font-size="18.229" fill="#000" stroke="#000" stroke-width="0.45">e</text>
<text transform="matrix(0.8772,0,0,1,431.670,400.710)" font-family="Liberation Serif, serif" font-weight="normal" font-style="normal" font-size="17.669" fill="#000" stroke="#000" stroke-width="0.48">V</text>
<text transform="matrix(0.9477,0,0,1,444.477,401.127)" font-family="Liberation Serif, serif" font-weight="normal" font-style="normal" font-size="19.278" fill="#000" stroke="#000" stroke-width="0.46">)</text>
<g transform="matrix(0,-1,1,0,0,0)">
<text transform="matrix(1.0126,0,0,1,-223.651,16.877)" font-family="Liberation Serif, serif" font-weight="normal" font-style="normal" font-size="17.308" fill="#000" stroke="#000" stroke-width="0.50">σ</text>
<text transform="matrix(1.1302,0,0,1,-203.556,16.097)" font-family="Liberation Serif, serif" font-weight="normal" font-style="normal" font-size="19.778" fill="#000" stroke="#000" stroke-width="0.47">(</text>
<text transform="matrix(1.0882,0,0,1,-195.291,16.850)" font-family="Liberation Serif, serif" font-weight="normal" font-style="normal" font-size="16.571" fill="#000" stroke="#000" stroke-width="0.48">f</text>
<text transform="matrix(1.2638,0,0,1,-188.050,16.881)" font-family="Liberation Serif, serif" font-weight="normal" font-style="normal" font-size="16.857" fill="#000" stroke="#000" stroke-width="0.44">b</text>
<text transform="matrix(1.1085,0,0,1,-177.408,16.097)" font-family="Liberation Serif, serif" font-weight="normal" font-style="normal" font-size="19.778" fill="#000" stroke="#000" stroke-width="0.47">)</text>
</g>
<path d="M400.0,52.30 H431.20" stroke="#000" stroke-width="1.45" fill="none"/>
<text transform="matrix(1.1925,0,0,1,433.291,57.825)" font-family="Liberation Serif, serif" font-weight="normal" font-style="normal" font-size="17.544" fill="#000" stroke="#000" stroke-width="0.55">tan</text>
<text transform="matrix(1.1197,0,0,1,460.210,58.110)" font-family="Liberation Serif, serif" font-weight="bold" font-style="italic" font-size="15.191" fill="#000" stroke="#000" stroke-width="0.19">β</text>
<path d="M469.4,51.90 h8.7 M469.4,54.80 h8.7" stroke="#000" stroke-width="1.15" fill="none"/>
<text transform="matrix(1.1849,0,0,1,479.169,57.906)" font-family="Liberation Sans, serif" font-weight="normal" font-style="normal" font-size="14.366" fill="#000" stroke="#000" stroke-width="0.46">0.5</text>
<path d="M400.0,68.90 H428.60" stroke="#ff0000" stroke-width="1.55" fill="none" stroke-dasharray="5 2.63"/>
<text transform="matrix(1.1925,0,0,1,433.291,74.425)" font-family="Liberation Serif, serif" font-weight="normal" font-style="normal" font-size="17.544" fill="#ff0000" stroke="#ff0000" stroke-width="0.55">tan</text>
<text transform="matrix(1.1197,0,0,1,460.210,74.710)" font-family="Liberation Serif, serif" font-weight="bold" font-style="italic" font-size="15.191" fill="#ff0000" stroke="#ff0000" stroke-width="0.19">β</text>
<path d="M469.4,68.50 h8.7 M469.4,71.40 h8.7" stroke="#ff0000" stroke-width="1.15" fill="none"/>
<text transform="matrix(0.8653,0,0,1,479.891,74.650)" font-family="Liberation Sans, serif" font-weight="normal" font-style="normal" font-size="14.783" fill="#ff0000" stroke="#ff0000" stroke-width="0.54">1</text>
<path d="M400.0,85.70 H431.60" stroke="#0000ff" stroke-width="1.55" fill="none" stroke-dasharray="2.2 1.78"/>
<text transform="matrix(1.1925,0,0,1,433.291,91.225)" font-family="Liberation Serif, serif" font-weight="normal" font-style="normal" font-size="17.544" fill="#0000ff" stroke="#0000ff" stroke-width="0.55">tan</text>
<text transform="matrix(1.1197,0,0,1,460.210,91.510)" font-family="Liberation Serif, serif" font-weight="bold" font-style="italic" font-size="15.191" fill="#0000ff" stroke="#0000ff" stroke-width="0.19">β</text>
<path d="M469.4,85.30 h8.7 M469.4,88.20 h8.7" stroke="#0000ff" stroke-width="1.15" fill="none"/>
<text transform="matrix(1.0836,0,0,1,479.418,91.304)" font-family="Liberation Sans, serif" font-weight="normal" font-style="normal" font-size="14.571" fill="#0000ff" stroke="#0000ff" stroke-width="0.48">5</text>
<path d="M400.0,102.30 H431.30" stroke="#00ff00" stroke-width="1.55" fill="none" stroke-dasharray="11.7 3.5 2.7 3.5"/>
<text transform="matrix(1.1925,0,0,1,433.291,107.825)" font-family="Liberation Serif, serif" font-weight="normal" font-style="normal" font-size="17.544" fill="#00ff00" stroke="#00ff00" stroke-width="0.55">tan</text>
<text transform="matrix(1.1197,0,0,1,460.210,108.110)" font-family="Liberation Serif, serif" font-weight="bold" font-style="italic" font-size="15.191" fill="#00ff00" stroke="#00ff00" stroke-width="0.19">β</text>
<path d="M469.4,101.90 h8.7 M469.4,104.80 h8.7" stroke="#00ff00" stroke-width="1.15" fill="none"/>
<text transform="matrix(1.1477,0,0,1,479.226,107.906)" font-family="Liberation Sans, serif" font-weight="normal" font-style="normal" font-size="14.366" fill="#00ff00" stroke="#00ff00" stroke-width="0.47">20</text>
<path d="M400.0,119.50 H430.00" stroke="#00ffff" stroke-width="1.55" fill="none" stroke-dasharray="12.1 3.5"/>
<text transform="matrix(1.1925,0,0,1,433.291,125.025)" font-family="Liberation Serif, serif" font-weight="normal" font-style="normal" font-size="17.544" fill="#00ffff" stroke="#00ffff" stroke-width="0.55">tan</text>
<text transform="matrix(1.1197,0,0,1,460.210,125.310)" font-family="Liberation Serif, serif" font-weight="bold" font-style="italic" font-size="15.191" fill="#00ffff" stroke="#00ffff" stroke-width="0.19">β</text>
<path d="M469.4,119.10 h8.7 M469.4,122.00 h8.7" stroke="#00ffff" stroke-width="1.15" fill="none"/>
<text transform="matrix(1.1366,0,0,1,479.397,125.106)" font-family="Liberation Sans, serif" font-weight="normal" font-style="normal" font-size="14.366" fill="#00ffff" stroke="#00ffff" stroke-width="0.47">50</text>
</svg></body></html>
